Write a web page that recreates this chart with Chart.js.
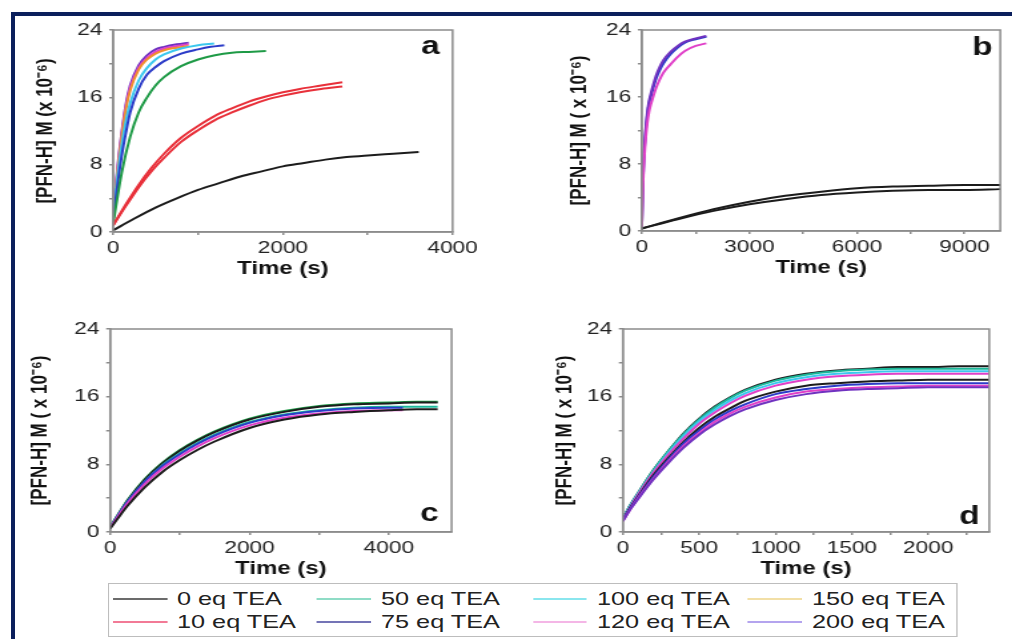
<!DOCTYPE html>
<html><head><meta charset="utf-8">
<script src="https://cdn.jsdelivr.net/npm/chart.js@4.4.1/dist/chart.umd.min.js"></script>
<style>
html,body{margin:0;padding:0;background:#fff;width:1012px;height:639px;overflow:hidden;font-family:"Liberation Sans",Arial,sans-serif}
#frameTop{position:absolute;left:11px;top:12px;width:1001px;height:4px;background:#0b1f5c}
#frameLeft{position:absolute;left:11px;top:12px;width:4px;height:627px;background:#0b1f5c}
#wrap{position:absolute;left:0;top:0;height:639px;transform-origin:0 0}
.panel{position:absolute;left:0;top:0;height:639px}
#legend{position:absolute;border:1.5px solid #bdbdbd;box-sizing:border-box;background:#fff}
.li{position:absolute;height:0}
.li .ln{position:absolute;left:0;top:-1px;height:2px}
.li .tx{position:absolute;top:-12px;font-size:19px;line-height:24px;color:#222;white-space:nowrap}
</style></head>
<body>
<div id="frameTop"></div><div id="frameLeft"></div>
<div id="wrap">
  <div class="panel"><canvas id="ca"></canvas></div>
  <div class="panel"><canvas id="cb"></canvas></div>
  <div class="panel"><canvas id="cc"></canvas></div>
  <div class="panel"><canvas id="cd"></canvas></div>
  <div id="legend"></div>
</div>
<script>
// ---------- DATA ----------
const legendLabels = ["0 eq TEA","50 eq TEA","100 eq TEA","150 eq TEA","10 eq TEA","75 eq TEA","120 eq TEA","200 eq TEA"];
const legendColors = ["#6b6b6b","#8fdcc6","#8ae6ee","#f2dfa6","#f27a96","#7474b6","#f4b6e6","#b4a4ee"];

// tick values / labels
const yTickVals  = [0,4,8,12,16,20,24];
const yTickLabels = [0,8,16,24];
const aTickVals  = [0,1000,2000,3000,4000];
const aTickLabels = [0,2000,4000];
const bTickVals  = [0,1500,3000,4500,6000,7500,9000];
const bTickLabels = [0,3000,6000,9000];
const cTickVals  = [0,1000,2000,3000,4000];
const cTickLabels = [0,2000,4000];
const dTickVals  = [0,250,500,750,1000,1250,1500,1750,2000,2250];
const dTickLabels = [0,500,1000,1500,2000];

// panel a
const aTimeBlack = [0,250,500,750,1000,1250,1500,1750,2000,2250,2500,2750,3000,3300,3600];
const aBlack     = [0.2,1.6,2.9,4.0,5.0,5.8,6.6,7.2,7.8,8.2,8.6,8.9,9.1,9.3,9.5];
const aTimeRed   = [0,150,300,450,600,800,1000,1200,1400,1600,1800,2000,2200,2450,2700];
const aRed1      = [0.8,3.3,5.6,7.6,9.3,11.2,12.6,13.8,14.7,15.5,16.1,16.6,17.0,17.4,17.8];
const aRed2      = [0.8,3.1,5.3,7.2,8.8,10.7,12.1,13.3,14.2,15.0,15.7,16.2,16.6,17.0,17.3];
const aTimeGreen = [0,100,200,300,400,500,600,800,1000,1200,1400,1600,1800];
const aGreen     = [1.0,7.0,11.3,14.2,16.0,17.4,18.4,19.7,20.5,21.0,21.3,21.4,21.5];
const aTimeBlue  = [0,50,100,150,200,300,400,500,600,800,1000,1150,1310];
const aBlue      = [1.5,5.5,9.0,11.8,14.2,17.0,18.7,19.6,20.3,21.2,21.7,22.0,22.2];
const aTimeCyan  = [0,50,100,150,200,300,400,500,600,800,1000,1190];
const aCyan      = [1.7,6.5,10.3,13.2,15.3,18.0,19.5,20.5,21.1,21.8,22.2,22.4];
const aTimeFast  = [0,50,100,150,200,300,400,500,600,750,890];
const aOrange    = [1.8,7.0,11.2,14.6,16.8,19.3,20.5,21.2,21.6,21.9,22.1];
const aMagenta   = [1.9,7.2,11.5,14.9,17.1,19.5,20.7,21.4,21.8,22.1,22.3];
const aPurple    = [2.0,7.5,11.8,15.2,17.4,19.8,21.0,21.7,22.0,22.3,22.5];

// panel b
const bTimeFast  = [0,25,50,100,150,200,250,300,400,500,600,800,1000,1200,1500,1800];
const bBlue      = [0.5,5.0,8.0,11.5,13.8,15.2,16.0,16.8,18.2,19.2,20.0,21.1,21.9,22.5,22.9,23.2];
const bPurple    = [0.5,5.2,8.3,11.8,14.1,15.5,16.4,17.2,18.6,19.6,20.4,21.4,22.1,22.6,23.0,23.3];
const bPink      = [0.5,4.5,7.4,10.6,12.8,14.2,15.1,15.8,17.1,18.1,18.9,19.9,20.8,21.5,22.1,22.4];
const bTimeSlow  = [0,1000,2000,3000,4000,5000,6000,7000,8000,9000,10000];
const bBlack1    = [0.3,1.5,2.6,3.5,4.2,4.7,5.1,5.3,5.4,5.5,5.5];
const bBlack2    = [0.3,1.4,2.4,3.2,3.8,4.3,4.6,4.8,4.9,4.9,5.0];

// panel c
const cTimeLong  = [0,100,250,500,750,1000,1250,1500,2000,2500,3000,3500,4000,4400,4700];
const cGreen1    = [0.6,1.9,3.8,6.3,8.2,9.7,10.9,11.9,13.4,14.3,14.9,15.2,15.3,15.4,15.4];
const cBlack1    = [0.5,1.8,3.7,6.2,8.1,9.6,10.8,11.8,13.3,14.2,14.8,15.1,15.2,15.3,15.3];
const cGreen2    = [0.6,1.8,3.6,6.0,7.9,9.3,10.5,11.5,13.0,13.9,14.4,14.7,14.8,14.8,14.8];
const cBlack2    = [0.4,1.5,3.1,5.3,7.1,8.5,9.7,10.7,12.3,13.3,13.9,14.2,14.4,14.5,14.5];
const cTimeShort = [0,100,250,500,750,1000,1250,1500,2000,2500,3000,3500,4000,4200];
const cBlue      = [0.5,1.8,3.6,6.0,7.8,9.2,10.4,11.4,12.9,13.8,14.3,14.6,14.7,14.7];
const cMagenta   = [0.5,1.7,3.4,5.7,7.5,8.9,10.1,11.1,12.6,13.5,14.0,14.3,14.4,14.4];

// panel d
const dTime      = [0,50,100,200,300,400,500,600,700,800,1000,1200,1400,1600,1800,2000,2200,2400];
const dBlack1    = [1.6,3.2,4.6,7.3,9.6,11.7,13.4,14.8,15.9,16.8,18.0,18.7,19.1,19.3,19.5,19.5,19.6,19.6];
const dTeal      = [1.6,3.2,4.6,7.3,9.6,11.6,13.3,14.7,15.8,16.7,17.9,18.6,19.0,19.2,19.3,19.3,19.3,19.3];
const dCyan      = [1.5,3.1,4.5,7.1,9.4,11.4,13.1,14.4,15.5,16.4,17.6,18.3,18.7,18.9,19.0,19.0,19.0,19.0];
const dPink      = [1.5,3.0,4.4,7.0,9.2,11.1,12.8,14.1,15.2,16.1,17.3,18.0,18.4,18.6,18.7,18.7,18.7,18.7];
const dBlack2    = [1.4,2.9,4.2,6.7,8.8,10.7,12.3,13.6,14.6,15.5,16.6,17.3,17.6,17.8,17.9,18.0,18.0,18.0];
const dBlue      = [1.4,2.8,4.1,6.5,8.6,10.5,12.0,13.3,14.3,15.1,16.3,16.9,17.3,17.5,17.6,17.6,17.6,17.6];
const dMagenta   = [1.3,2.7,4.0,6.3,8.4,10.2,11.7,13.0,14.0,14.8,15.9,16.6,16.9,17.1,17.2,17.3,17.3,17.3];
const dPurple    = [1.3,2.7,3.9,6.2,8.2,10.0,11.5,12.7,13.7,14.5,15.6,16.3,16.7,16.9,17.0,17.1,17.1,17.1];

// ---------- RENDER ----------
const S = 1.33;            // horizontal stretch of the original figure
const W = 1012 / S;
const wrap = document.getElementById('wrap');
wrap.style.width = W + 'px';
wrap.style.transform = 'scaleX(' + S + ')';
document.querySelectorAll('.panel').forEach(p => p.style.width = W + 'px');

const C = {black:'#1c1c1c', red:'#e8303a', green:'#1e9a46', teal:'#1cb89a', blue:'#2c3cc8',
           cyan:'#3cc8ee', magenta:'#e040c8', orange:'#f0902c', purple:'#7032c0'};
Chart.defaults.font.family = '"Liberation Sans", Arial, sans-serif';

function ds(t, v, color) {
  return {data: t.map((x, i) => ({x: x, y: v[i]})), borderColor: color, backgroundColor: color,
          borderWidth: 2, pointRadius: 0, fill: false, cubicInterpolationMode: 'monotone'};
}
const AX = '#8c8c8c';
function makePanel(id, p) {
  const Yw = p.titleDist / S + 10.2;
  const Xh = 48;
  const pad = {left: p.l / S - Yw, right: W - p.r / S, top: p.t, bottom: 639 - p.b - Xh};
  const boxPlugin = {
    id: 'box' + id,
    afterDraw(chart) {
      const a = chart.chartArea, ctx = chart.ctx;
      ctx.save();
      ctx.strokeStyle = AX; ctx.lineWidth = 1.5;
      ctx.strokeRect(a.left, a.top, a.right - a.left, a.bottom - a.top);
      ctx.fillStyle = '#111'; ctx.font = 'bold 25px "Liberation Sans", Arial, sans-serif';
      ctx.textAlign = 'center'; ctx.textBaseline = 'middle';
      ctx.fillText(p.letter, p.lx / S, p.ly);
      ctx.restore();
    }
  };
  new Chart(document.getElementById(id), {
    type: 'line',
    data: {datasets: p.datasets},
    options: {
      responsive: true, maintainAspectRatio: false, animation: false,
      layout: {padding: pad},
      plugins: {legend: {display: false}, tooltip: {enabled: false}},
      scales: {
        x: {type: 'linear', min: 0, max: p.xMax, afterFit: s => { s.height = Xh; },
            afterBuildTicks: s => { s.ticks = p.xTicks.map(v => ({value: v})); },
            ticks: {autoSkip: false, maxRotation: 0, padding: 3, color: '#222', font: {size: 17},
                    callback: v => (p.xLabels.indexOf(v) >= 0 ? String(v) : '')},
            grid: {drawOnChartArea: false, drawTicks: true, tickLength: 3, color: AX, lineWidth: 1.5},
            border: {display: true, color: AX, width: 1.5},
            title: {display: true, text: 'Time (s)', color: '#111', font: {size: 18, weight: 'bold'}, padding: {top: 0, bottom: 0}}},
        y: {min: 0, max: 24, afterFit: s => { s.width = Yw; },
            afterBuildTicks: s => { s.ticks = yTickVals.map(v => ({value: v})); },
            ticks: {autoSkip: false, padding: 5, color: '#222', font: {size: 17},
                    callback: v => (yTickLabels.indexOf(v) >= 0 ? String(v) : '')},
            grid: {drawOnChartArea: false, drawTicks: true, tickLength: 3, color: AX, lineWidth: 1.5},
            border: {display: true, color: AX, width: 1.5},
            title: {display: true, text: p.yTitle, color: '#111', font: {size: 17, weight: 'bold'}, padding: {top: 0, bottom: 0}}}
      }
    },
    plugins: [boxPlugin]
  });
}

makePanel('ca', {l: 113, r: 452, t: 30, b: 232, titleDist: 68, xMax: 4000, xTicks: aTickVals, xLabels: aTickLabels,
  yTitle: '[PFN-H] M (x 10\u207B\u2076)', letter: 'a', lx: 430, ly: 47,
  datasets: [ds(aTimeBlack, aBlack, C.black), ds(aTimeRed, aRed1, C.red), ds(aTimeRed, aRed2, C.red),
             ds(aTimeGreen, aGreen, C.green), ds(aTimeBlue, aBlue, C.blue), ds(aTimeCyan, aCyan, C.cyan),
             ds(aTimeFast, aOrange, C.orange), ds(aTimeFast, aMagenta, C.magenta), ds(aTimeFast, aPurple, C.purple)]});
makePanel('cb', {l: 641, r: 999, t: 30, b: 231, titleDist: 62, xMax: 10000, xTicks: bTickVals, xLabels: bTickLabels,
  yTitle: '[PFN-H] M ( x 10\u207B\u2076)', letter: 'b', lx: 981, ly: 48,
  datasets: [ds(bTimeSlow, bBlack1, C.black), ds(bTimeSlow, bBlack2, C.black),
             ds(bTimeFast, bPink, C.magenta), ds(bTimeFast, bPurple, C.purple), ds(bTimeFast, bBlue, C.blue)]});
makePanel('cc', {l: 110, r: 451, t: 329, b: 532, titleDist: 70, xMax: 4900, xTicks: cTickVals, xLabels: cTickLabels,
  yTitle: '[PFN-H] M ( x 10\u207B\u2076)', letter: 'c', lx: 429, ly: 514,
  datasets: [ds(cTimeLong, cBlack2, C.black), ds(cTimeShort, cMagenta, C.magenta), ds(cTimeShort, cBlue, C.blue),
             ds(cTimeLong, cGreen2, C.teal), ds(cTimeLong, cBlack1, C.black), ds(cTimeLong, cGreen1, C.green)]});
makePanel('cd', {l: 622, r: 988, t: 329, b: 532, titleDist: 58, xMax: 2400, xTicks: dTickVals, xLabels: dTickLabels,
  yTitle: '[PFN-H] M ( x 10\u207B\u2076)', letter: 'd', lx: 968, ly: 517,
  datasets: [ds(dTime, dPurple, C.purple), ds(dTime, dMagenta, C.magenta), ds(dTime, dBlue, C.blue),
             ds(dTime, dBlack2, C.black), ds(dTime, dPink, C.magenta), ds(dTime, dCyan, C.cyan),
             ds(dTime, dTeal, C.teal), ds(dTime, dBlack1, C.black)]});

// legend (HTML, inside the stretched wrapper)
const lg = document.getElementById('legend');
const boxL = 108, boxR = 957, boxT = 583, boxB = 637;
lg.style.left = (boxL / S) + 'px'; lg.style.top = boxT + 'px';
lg.style.width = ((boxR - boxL) / S) + 'px'; lg.style.height = (boxB - boxT) + 'px';
const colX = [113, 317, 533, 748], rowY = [599, 622];
legendLabels.forEach((lab, i) => {
  const col = i % 4, row = Math.floor(i / 4);
  const it = document.createElement('div'); it.className = 'li';
  it.style.left = ((colX[col] - boxL) / S - 1) + 'px';
  it.style.top = (rowY[row] - boxT - 1.5) + 'px';
  const ln = document.createElement('div'); ln.className = 'ln';
  ln.style.width = (54 / S) + 'px'; ln.style.background = legendColors[i];
  const tx = document.createElement('div'); tx.className = 'tx';
  tx.style.left = (64 / S) + 'px'; tx.textContent = lab;
  it.appendChild(ln); it.appendChild(tx); lg.appendChild(it);
});
</script>
</body></html>
